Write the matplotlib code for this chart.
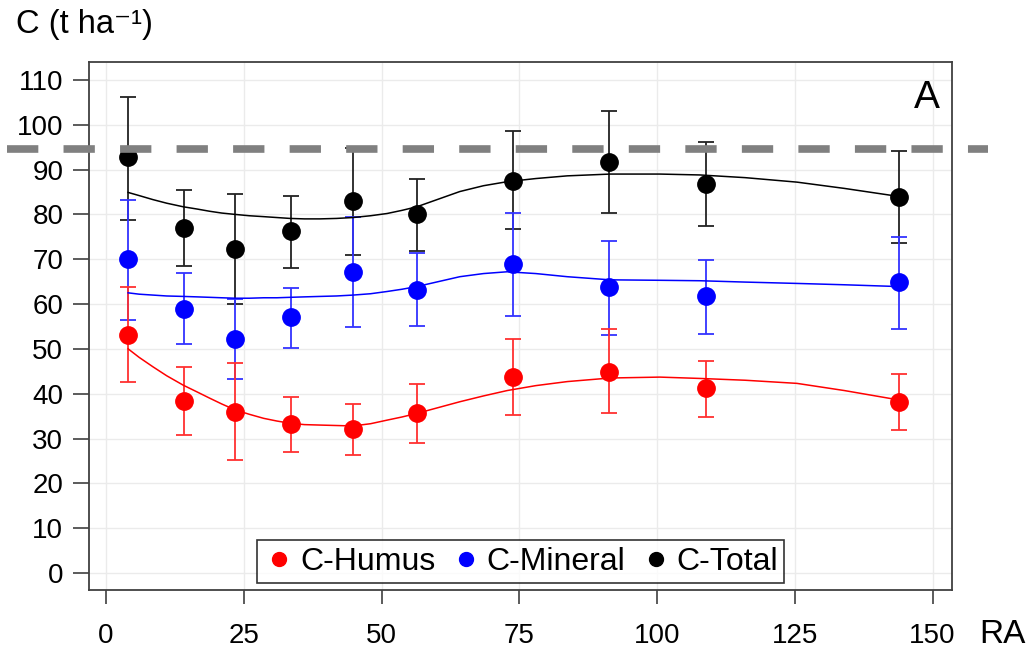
import matplotlib
matplotlib.use('Agg')
import matplotlib.pyplot as plt
from matplotlib.lines import Line2D

plt.rcParams['font.family'] = ['Liberation Sans', 'DejaVu Sans']

# sampling distance (RA) of the plots
ra = [4.0, 14.1, 23.4, 33.5, 44.8, 56.5, 73.9, 91.3, 108.8, 143.9]

humus = [53.1, 38.4, 36.0, 33.2, 32.1, 35.6, 43.8, 44.9, 41.2, 38.1]
humus_hi = [63.7, 45.9, 46.8, 39.3, 37.6, 42.1, 52.2, 54.4, 47.3, 44.3]
humus_lo = [42.5, 30.8, 25.2, 26.9, 26.3, 28.9, 35.3, 35.6, 34.9, 31.9]

mineral = [70.0, 58.8, 52.1, 57.0, 67.1, 63.1, 68.9, 63.7, 61.7, 64.9]
mineral_hi = [83.2, 66.9, 61.2, 63.6, 79.5, 71.5, 80.4, 74.1, 69.8, 75.0]
mineral_lo = [56.4, 51.1, 43.2, 50.2, 54.8, 55.0, 57.4, 53.1, 53.3, 54.5]

total = [92.7, 76.9, 72.3, 76.2, 82.9, 80.2, 87.5, 91.6, 86.8, 83.8]
total_hi = [106.2, 85.5, 84.6, 84.0, 94.8, 87.9, 98.6, 103.1, 96.2, 94.2]
total_lo = [78.8, 68.5, 60.0, 68.0, 71.0, 71.9, 76.7, 80.4, 77.4, 73.7]

# smoothed trend lines
fit_x = [4.0, 6.0, 8.5, 11.0, 14.0, 16.5, 18.8, 21.0, 23.4, 26.0, 28.6,
         31.0, 33.4, 36.0, 38.8, 41.8, 44.8, 48.0, 51.0, 53.7, 56.4, 60.3,
         64.2, 68.5, 72.8, 78.0, 83.7, 91.5, 100.5, 107.8, 116.0, 125.4,
         134.0, 143.9]
fit_humus = [50.0, 48.1, 46.0, 44.0, 41.9, 40.4, 39.0, 37.7, 36.4, 35.4,
             34.5, 33.9, 33.4, 33.1, 33.0, 32.9, 32.8, 33.3, 34.1, 34.8,
             35.6, 36.9, 38.2, 39.5, 40.7, 41.8, 42.7, 43.5, 43.7, 43.4,
             43.0, 42.3, 40.7, 38.6]
fit_mineral = [62.5, 62.2, 62.0, 61.8, 61.7, 61.6, 61.5, 61.4, 61.3, 61.3,
               61.4, 61.4, 61.5, 61.6, 61.7, 61.8, 62.0, 62.3, 62.8, 63.3,
               63.9, 65.0, 66.1, 66.8, 67.2, 66.8, 66.1, 65.4, 65.3, 65.2,
               64.9, 64.6, 64.3, 63.9]
fit_total = [84.9, 84.2, 83.3, 82.5, 81.7, 81.2, 80.7, 80.3, 80.0, 79.7,
             79.5, 79.3, 79.1, 79.0, 79.0, 79.1, 79.3, 79.7, 80.2, 80.9,
             81.7, 83.4, 85.1, 86.4, 87.3, 88.0, 88.6, 89.0, 89.0, 88.8,
             88.2, 87.2, 85.8, 84.0]

reference_level = 94.6

series = [
    ('C-Total', total, total_lo, total_hi, fit_total, 'black', '#222222'),
    ('C-Mineral', mineral, mineral_lo, mineral_hi, fit_mineral, 'blue', '#3333ff'),
    ('C-Humus', humus, humus_lo, humus_hi, fit_humus, 'red', '#ff3030'),
]

fig = plt.figure(figsize=(10.28, 6.5), dpi=100)
ax = fig.add_axes([0.0866, 0.0923, 0.8398, 0.8123])

for name, mean, lo, hi, fit, col, ecol in series:
    err = [[m - l for m, l in zip(mean, lo)], [h - m for h, m in zip(hi, mean)]]
    ax.errorbar(ra, mean, yerr=err, fmt='none', ecolor=ecol, elinewidth=1.3,
                capsize=6, capthick=1.3, zorder=3)
    ax.plot(fit_x, fit, color=col, lw=1.1, zorder=4)
    ax.plot(ra, mean, 'o', color=col, markersize=12.5, zorder=5)

ax.axhline(reference_level, xmin=-0.095, xmax=1.041, color='#808080', lw=5.5,
           dashes=(4.1, 3.3), clip_on=False, zorder=10)

ax.set_xlim(-3.1, 153.6)
ax.set_ylim(-3.8, 114)
ax.set_xticks(range(0, 151, 25))
ax.set_yticks(range(0, 111, 10))
ax.grid(True, color='#ebebeb', lw=1.0)
ax.set_axisbelow(True)
for s in ax.spines.values():
    s.set_color('#404040')
    s.set_linewidth(1.3)
ax.tick_params(axis='both', labelsize=20, color='#404040', width=1.2)
ax.tick_params(axis='y', length=11.5, pad=7)
ax.tick_params(axis='x', length=10, pad=14)

ax.text(0.985, 0.965, 'A', transform=ax.transAxes, ha='right', va='top',
        fontsize=28)
fig.text(0.016, 0.962, 'C (t ha\u207b\u00b9)', ha='left', va='center',
         fontsize=23.5)
fig.text(0.953, 0.024, 'RA', ha='left', va='center', fontsize=24)

handles = [Line2D([], [], marker='o', ls='none', color=c, markersize=10)
           for c in ['red', 'blue', 'black']]
leg = ax.legend(handles, ['C-Humus', 'C-Mineral', 'C-Total'], ncol=3,
                loc='lower center', bbox_to_anchor=(0.5, 0.013), fontsize=23,
                frameon=True, fancybox=False, handletextpad=0.15,
                columnspacing=0.45, handlelength=1.0, borderpad=0.2,
                borderaxespad=0)
leg.get_frame().set_edgecolor('black')
leg.get_frame().set_linewidth(1.2)

plt.savefig('out.png', dpi=100)
